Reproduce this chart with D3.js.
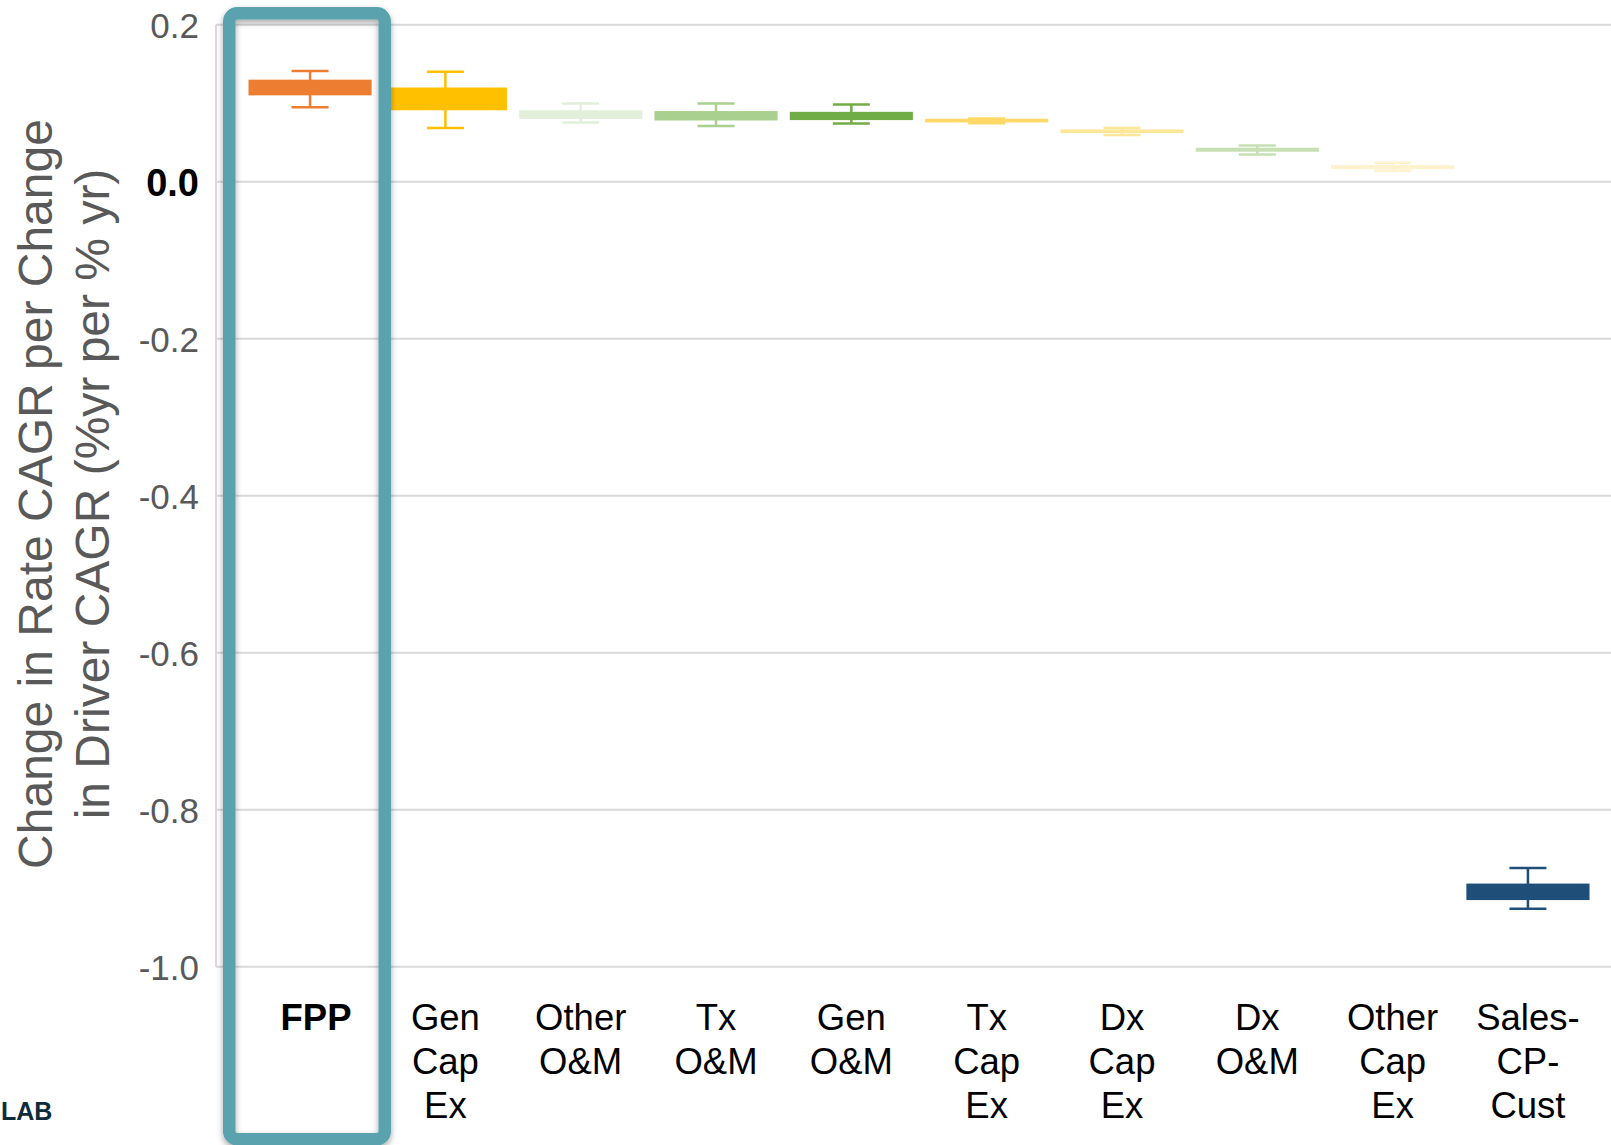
<!DOCTYPE html>
<html>
<head>
<meta charset="utf-8">
<script src="https://cdn.jsdelivr.net/npm/d3@7"></script>
<style>
	body{ margin:0; background:#fff; }
	svg{ display:block; font-family:"Liberation Sans", Arial, sans-serif; }
</style>
</head>
<body>
<svg></svg>
<script>
// rate sensitivity per driver, box = middle range, whiskers = spread
var categories = ['FPP','Gen Cap Ex','Other O&M','Tx O&M','Gen O&M','Tx Cap Ex','Dx Cap Ex','Dx O&M','Other Cap Ex','Sales-CP-Cust'];
var labelLines = [['FPP'],['Gen','Cap','Ex'],['Other','O&M'],['Tx','O&M'],['Gen','O&M'],['Tx','Cap','Ex'],['Dx','Cap','Ex'],['Dx','O&M'],['Other','Cap','Ex'],['Sales-','CP-','Cust']];
var boxHigh   = [0.130, 0.120, 0.091, 0.090, 0.089, 0.0802, 0.0666, 0.0433, 0.0212, -0.894];
var boxLow    = [0.110, 0.091, 0.080, 0.078, 0.0785, 0.0755, 0.0619, 0.0382, 0.0161, -0.915];
var whiskHigh = [0.141, 0.140, 0.0996, 0.0996, 0.0984, 0.0806, 0.0683, 0.0462, 0.0242, -0.874];
var whiskLow  = [0.095, 0.0685, 0.0753, 0.0711, 0.0742, 0.0746, 0.0594, 0.0348, 0.0140, -0.926];
var colors    = ['#ED7D31','#FFC000','#E2EFDA','#A9D08E','#70AD47','#FFD966','#FFE699','#C6E0B4','#FFF2CC','#1F4E79'];
var yTicks    = [0.2, 0.0, -0.2, -0.4, -0.6, -0.8, -1.0];

var svgwidth = 1611;
var svgheight = 1145;

var svg = d3.select('svg').attr('width',svgwidth).attr('height',svgheight);

var plotLeft = 216;
var plotRight = 1611;

var x = d3.scaleBand().domain(categories).range([242.4,1595.6]).paddingInner(0.09).paddingOuter(0.045);
var y = d3.scaleLinear().domain([-1.0,0.2]).range([966.8,24.7]);

var data = categories.map(function(c,i){
	return {cat:c, lines:labelLines[i], hi:boxHigh[i], lo:boxLow[i], wh:whiskHigh[i], wl:whiskLow[i], color:colors[i]};
});

var defs = svg.append('defs');
var shadow = defs.append('filter').attr('id','shadow').attr('x','-10%').attr('y','-10%').attr('width','120%').attr('height','120%');
shadow.append('feDropShadow').attr('dx',0).attr('dy',3).attr('stdDeviation',3).attr('flood-color','#000').attr('flood-opacity',0.35);

// gridlines
svg.append('g').selectAll('.grid').data(yTicks).enter().append('line')
	.attr('x1',plotLeft)
	.attr('x2',plotRight)
	.attr('y1',function(d){ return y(d);})
	.attr('y2',function(d){ return y(d);})
	.attr('stroke','#d9d9d9')
	.attr('stroke-width',2);

svg.append('line')
	.attr('x1',plotLeft).attr('x2',plotLeft)
	.attr('y1',y(0.2)).attr('y2',y(-1.0))
	.attr('stroke','#d9d9d9')
	.attr('stroke-width',2);

// y axis labels
var yAxis = d3.axisLeft(y).tickValues(yTicks).tickSize(0).tickPadding(17)
	.tickFormat(function(d){ return d.toFixed(1);});

var yg = svg.append('g').attr('transform','translate('+plotLeft+',0)').call(yAxis);
yg.select('.domain').remove();
yg.selectAll('text')
	.attr('font-family','"Liberation Sans", Arial, sans-serif')
	.attr('font-size',function(d){ return d==0 ? 38 : 35;})
	.attr('font-weight',function(d){ return d==0 ? 'bold' : 'normal';})
	.attr('fill',function(d){ return d==0 ? '#000' : '#595959';})
	.attr('dy','0.36em');

// y axis title
var title = svg.append('text')
	.attr('transform','translate(0,494) rotate(-90)')
	.attr('text-anchor','middle')
	.attr('font-size',48)
	.attr('fill','#595959');
title.append('tspan').attr('x',0).attr('y',35).attr('dy','0.35em').text('Change in Rate CAGR per Change');
title.append('tspan').attr('x',0).attr('y',92).attr('dy','0.35em').text('in Driver CAGR (%yr per % yr)');

// boxes
var plot = svg.append('g').classed('plot',true);

plot.selectAll('.box').data(data).enter().append('rect')
	.attr('x',function(d){ return x(d.cat);})
	.attr('y',function(d){ return y(d.hi);})
	.attr('width',x.bandwidth())
	.attr('height',function(d){ return y(d.lo)-y(d.hi);})
	.attr('fill',function(d){ return d.color;});

plot.selectAll('.whisker').data(data).enter().append('line')
	.attr('x1',function(d){ return x(d.cat)+x.bandwidth()/2;})
	.attr('x2',function(d){ return x(d.cat)+x.bandwidth()/2;})
	.attr('y1',function(d){ return y(d.wh);})
	.attr('y2',function(d){ return y(d.wl);})
	.attr('stroke',function(d){ return d.color;})
	.attr('stroke-width',2.5);

['wh','wl'].forEach(function(k){
	plot.selectAll('.cap'+k).data(data).enter().append('line')
		.attr('x1',function(d){ return x(d.cat)+x.bandwidth()/2-18.5;})
		.attr('x2',function(d){ return x(d.cat)+x.bandwidth()/2+18.5;})
		.attr('y1',function(d){ return y(d[k]);})
		.attr('y2',function(d){ return y(d[k]);})
		.attr('stroke',function(d){ return d.color;})
		.attr('stroke-width',2.5);
});

// category labels
var labels = svg.append('g').selectAll('.cat').data(data).enter().append('text')
	.attr('text-anchor','middle')
	.attr('font-size',36.5)
	.attr('font-weight',function(d,i){ return i==0 ? 'bold' : 'normal';})
	.attr('fill','#000');

labels.each(function(d,i){
	var t = d3.select(this);
	var cx = x(d.cat)+x.bandwidth()/2 + (i==0 ? 6 : 0);
	d.lines.forEach(function(line,j){
		t.append('tspan').attr('x',cx).attr('y',1030+j*44).text(line);
	});
});

// highlight frame around FPP
svg.append('rect')
	.attr('x',229.25)
	.attr('y',13.25)
	.attr('width',155.5)
	.attr('height',1126)
	.attr('rx',8)
	.attr('fill','none')
	.attr('stroke','#5AA3AE')
	.attr('stroke-width',12.5)
	.attr('filter','url(#shadow)');

// logo text at bottom left
svg.append('text')
	.attr('x',1)
	.attr('y',1120)
	.attr('font-size',25)
	.attr('font-weight','bold')
	.attr('fill','#0D2B3A')
	.text('LAB');
</script>
</body>
</html>
